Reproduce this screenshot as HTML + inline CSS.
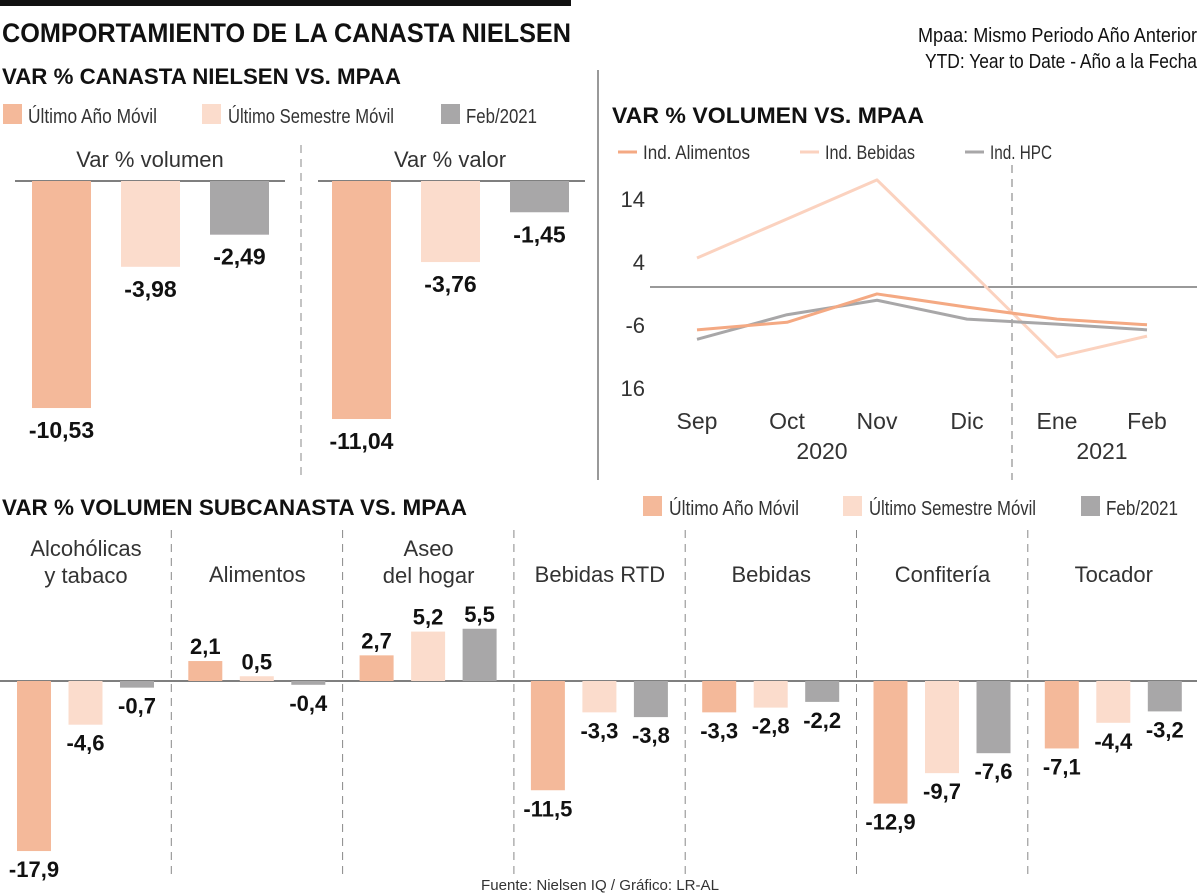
<!DOCTYPE html>
<html><head><meta charset="utf-8"><style>
body{margin:0;background:#fff;}
svg{display:block;font-family:"Liberation Sans Narrow","Liberation Sans",sans-serif;}
</style></head><body>
<svg id="c" width="1200" height="894" viewBox="0 0 1200 894">
<rect x="0" y="0" width="571" height="6" fill="#111"/>
<text x="2" y="42" font-size="27" font-weight="bold" fill="#111" textLength="569" lengthAdjust="spacingAndGlyphs">COMPORTAMIENTO DE LA CANASTA NIELSEN</text>
<text x="918" y="42" font-size="20" fill="#111" textLength="279" lengthAdjust="spacingAndGlyphs">Mpaa: Mismo Periodo Año Anterior</text>
<text x="925" y="68" font-size="20" fill="#111" textLength="272" lengthAdjust="spacingAndGlyphs">YTD: Year to Date - Año a la Fecha</text>
<text x="2" y="84" font-size="22" font-weight="bold" fill="#111" textLength="399" lengthAdjust="spacingAndGlyphs">VAR % CANASTA NIELSEN VS. MPAA</text>
<g>
<rect x="3" y="104" width="19" height="20" fill="#f4b99a"/>
<text x="28" y="123" font-size="20" fill="#333" textLength="129" lengthAdjust="spacingAndGlyphs">Último Año Móvil</text>
<rect x="202" y="104" width="19" height="20" fill="#fbdccc"/>
<text x="228" y="123" font-size="20" fill="#333" textLength="166" lengthAdjust="spacingAndGlyphs">Último Semestre Móvil</text>
<rect x="441" y="104" width="19" height="20" fill="#a8a7a8"/>
<text x="466" y="123" font-size="20" fill="#333" textLength="71" lengthAdjust="spacingAndGlyphs">Feb/2021</text>
</g>
<text x="150" y="167" font-size="22" text-anchor="middle" fill="#333">Var % volumen</text>
<text x="450" y="167" font-size="22" text-anchor="middle" fill="#333">Var % valor</text>
<line x1="301" y1="145" x2="301" y2="478" stroke="#888" stroke-dasharray="8,6"/>
<line x1="598" y1="70" x2="598" y2="480" stroke="#999" stroke-width="2"/>
<g id="topbars"></g>
<text x="612" y="123" font-size="22" font-weight="bold" fill="#111" textLength="312" lengthAdjust="spacingAndGlyphs">VAR % VOLUMEN VS. MPAA</text>
<g>
<line x1="618" y1="152" x2="637" y2="152" stroke="#f4a983" stroke-width="3"/>
<text x="643" y="159" font-size="19" fill="#333" textLength="107" lengthAdjust="spacingAndGlyphs">Ind. Alimentos</text>
<line x1="800" y1="152" x2="819" y2="152" stroke="#fbd2bf" stroke-width="3"/>
<text x="825" y="159" font-size="19" fill="#333" textLength="90" lengthAdjust="spacingAndGlyphs">Ind. Bebidas</text>
<line x1="965" y1="152" x2="984" y2="152" stroke="#a8a7a8" stroke-width="3"/>
<text x="990" y="159" font-size="19" fill="#333" textLength="62" lengthAdjust="spacingAndGlyphs">Ind. HPC</text>
</g>
<g id="linechart"></g>
<text x="2" y="515" font-size="22" font-weight="bold" fill="#111" textLength="465" lengthAdjust="spacingAndGlyphs">VAR % VOLUMEN SUBCANASTA VS. MPAA</text>
<g>
<rect x="643" y="496" width="19" height="20" fill="#f4b99a"/>
<text x="669" y="515" font-size="20" fill="#333" textLength="130" lengthAdjust="spacingAndGlyphs">Último Año Móvil</text>
<rect x="843" y="496" width="19" height="20" fill="#fbdccc"/>
<text x="869" y="515" font-size="20" fill="#333" textLength="167" lengthAdjust="spacingAndGlyphs">Último Semestre Móvil</text>
<rect x="1081" y="496" width="19" height="20" fill="#a8a7a8"/>
<text x="1106" y="515" font-size="20" fill="#333" textLength="72" lengthAdjust="spacingAndGlyphs">Feb/2021</text>
</g>
<g id="bottom"></g>
<text x="600" y="890" font-size="15" text-anchor="middle" fill="#333" textLength="238" lengthAdjust="spacingAndGlyphs">Fuente: Nielsen IQ / Gráfico: LR-AL</text>
</svg>
<script>
// Top panels
const topPanels = ["Var % volumen", "Var % valor"];
const topVolumen = [-10.53, -3.98, -2.49];
const topValor = [-11.04, -3.76, -1.45];
const topLabels = [["-10,53","-3,98","-2,49"],["-11,04","-3,76","-1,45"]];
// Line chart
const months = ["Sep","Oct","Nov","Dic","Ene","Feb"];
const alimentos = [-6.8, -5.6, -1.1, -3.2, -5.1, -6.0];
const bebidas = [4.6, 10.8, 17.0, 3.0, -11.1, -7.8];
const hpc = [-8.3, -4.4, -2.1, -5.1, -5.9, -6.8];
const yTicks = [14, 4, -6, -16];
const yTickLabels = ["14","4","-6","16"];
// Bottom chart
const subCats = [["Alcohólicas","y tabaco"],["Alimentos"],["Aseo","del hogar"],["Bebidas RTD"],["Bebidas"],["Confitería"],["Tocador"]];
const subAno = [-17.9, 2.1, 2.7, -11.5, -3.3, -12.9, -7.1];
const subSem = [-4.6, 0.5, 5.2, -3.3, -2.8, -9.7, -4.4];
const subFeb = [-0.7, -0.4, 5.5, -3.8, -2.2, -7.6, -3.2];
const subLabelsAno = ["-17,9","2,1","2,7","-11,5","-3,3","-12,9","-7,1"];
const subLabelsSem = ["-4,6","0,5","5,2","-3,3","-2,8","-9,7","-4,4"];
const subLabelsFeb = ["-0,7","-0,4","5,5","-3,8","-2,2","-7,6","-3,2"];

const NS = "http://www.w3.org/2000/svg";
const colors = ["#f4b99a","#fbdccc","#a8a7a8"];
function mk(tag, attrs, parent){const e=document.createElementNS(NS,tag);for(const k in attrs)e.setAttribute(k,attrs[k]);parent.appendChild(e);return e;}

// top bars
const tb = document.getElementById("topbars");
const topY = v => 181 - v * 21.56;
[topVolumen, topValor].forEach((vals, p) => {
  const x0 = p === 0 ? 32 : 332;
  const ax = mk("line",{x1:p===0?15:318,y1:181,x2:p===0?285:585,y2:181,stroke:"#555","stroke-width":1.5},tb);
  
  
  vals.forEach((v, i) => {
    const x = x0 + i * 89;
    const r = mk("rect",{x:x,y:181,width:59,height:topY(v)-181,fill:colors[i]},tb);
    
    
    const t = mk("text",{x:x+29.5,y:topY(v)+30,"font-size":23,"font-weight":"bold","text-anchor":"middle",fill:"#111"},tb);
    t.textContent = topLabels[p][i];
    
    
  });
});

// line chart
const lc = document.getElementById("linechart");
const lx = i => 697 + i * 90;
const ly = v => 287 - v * 6.3;
yTicks.forEach((v, i) => {
  const t = mk("text",{x:645,y:ly(v)+8,"font-size":22,"text-anchor":"end",fill:"#333"},lc);
  t.textContent = yTickLabels[i];
  
  
});
const zl = mk("line",{x1:650,y1:ly(0),x2:1197,y2:ly(0),stroke:"#333","stroke-width":1},lc);


const vd = mk("line",{x1:1012,y1:165,x2:1012,y2:480,stroke:"#777","stroke-dasharray":"8,6"},lc);


[[bebidas,"#fbd2bf","bebidas"],[hpc,"#a8a7a8","hpc"],[alimentos,"#f4a983","alimentos"]].forEach(([d,c,n]) => {
  const pl = mk("polyline",{points:d.map((v,i)=>lx(i)+","+ly(v)).join(" "),fill:"none",stroke:c,"stroke-width":3,"stroke-linejoin":"round"},lc);
  
  
});
months.forEach((m, i) => {
  const t = mk("text",{x:lx(i),y:429,"font-size":23,"text-anchor":"middle",fill:"#333"},lc);
  t.textContent = m;
  
  
});
const y1 = mk("text",{x:822,y:459,"font-size":23,"text-anchor":"middle",fill:"#333"},lc);
y1.textContent = "2020";


const y2 = mk("text",{x:1102,y:459,"font-size":23,"text-anchor":"middle",fill:"#333"},lc);
y2.textContent = "2021";



// bottom chart
const bt = document.getElementById("bottom");
const by = v => 681 - v * 9.5;
const bax = mk("line",{x1:0,y1:681,x2:1197,y2:681,stroke:"#555","stroke-width":1.5},bt);


subCats.forEach((cat, g) => {
  const gx = g * 171.3;
  if (g > 0) {
    const d = mk("line",{x1:gx,y1:530,x2:gx,y2:880,stroke:"#888","stroke-dasharray":"8,6"},bt);
    
    
  }
  cat.forEach((ln, k) => {
    const t = mk("text",{x:gx+86,y:(cat.length===1?582:556)+k*27,"font-size":22,"text-anchor":"middle",fill:"#333"},bt);
    t.textContent = ln;
    
    
  });
  [[subAno,subLabelsAno],[subSem,subLabelsSem],[subFeb,subLabelsFeb]].forEach(([vals,labs], i) => {
    const v = vals[g];
    const x = gx + 17 + i * 51.5;
    const top = Math.min(by(v), 681), h = Math.abs(by(v) - 681);
    const r = mk("rect",{x:x,y:top,width:34,height:h,fill:colors[i]},bt);
    
    
    const ty = v >= 0 ? by(v) - 7 : by(v) + 26;
    const t = mk("text",{x:x+17,y:ty,"font-size":22,"font-weight":"bold","text-anchor":"middle",fill:"#111"},bt);
    t.textContent = labs[g];
    
    
  });
});
</script>
</body></html>
